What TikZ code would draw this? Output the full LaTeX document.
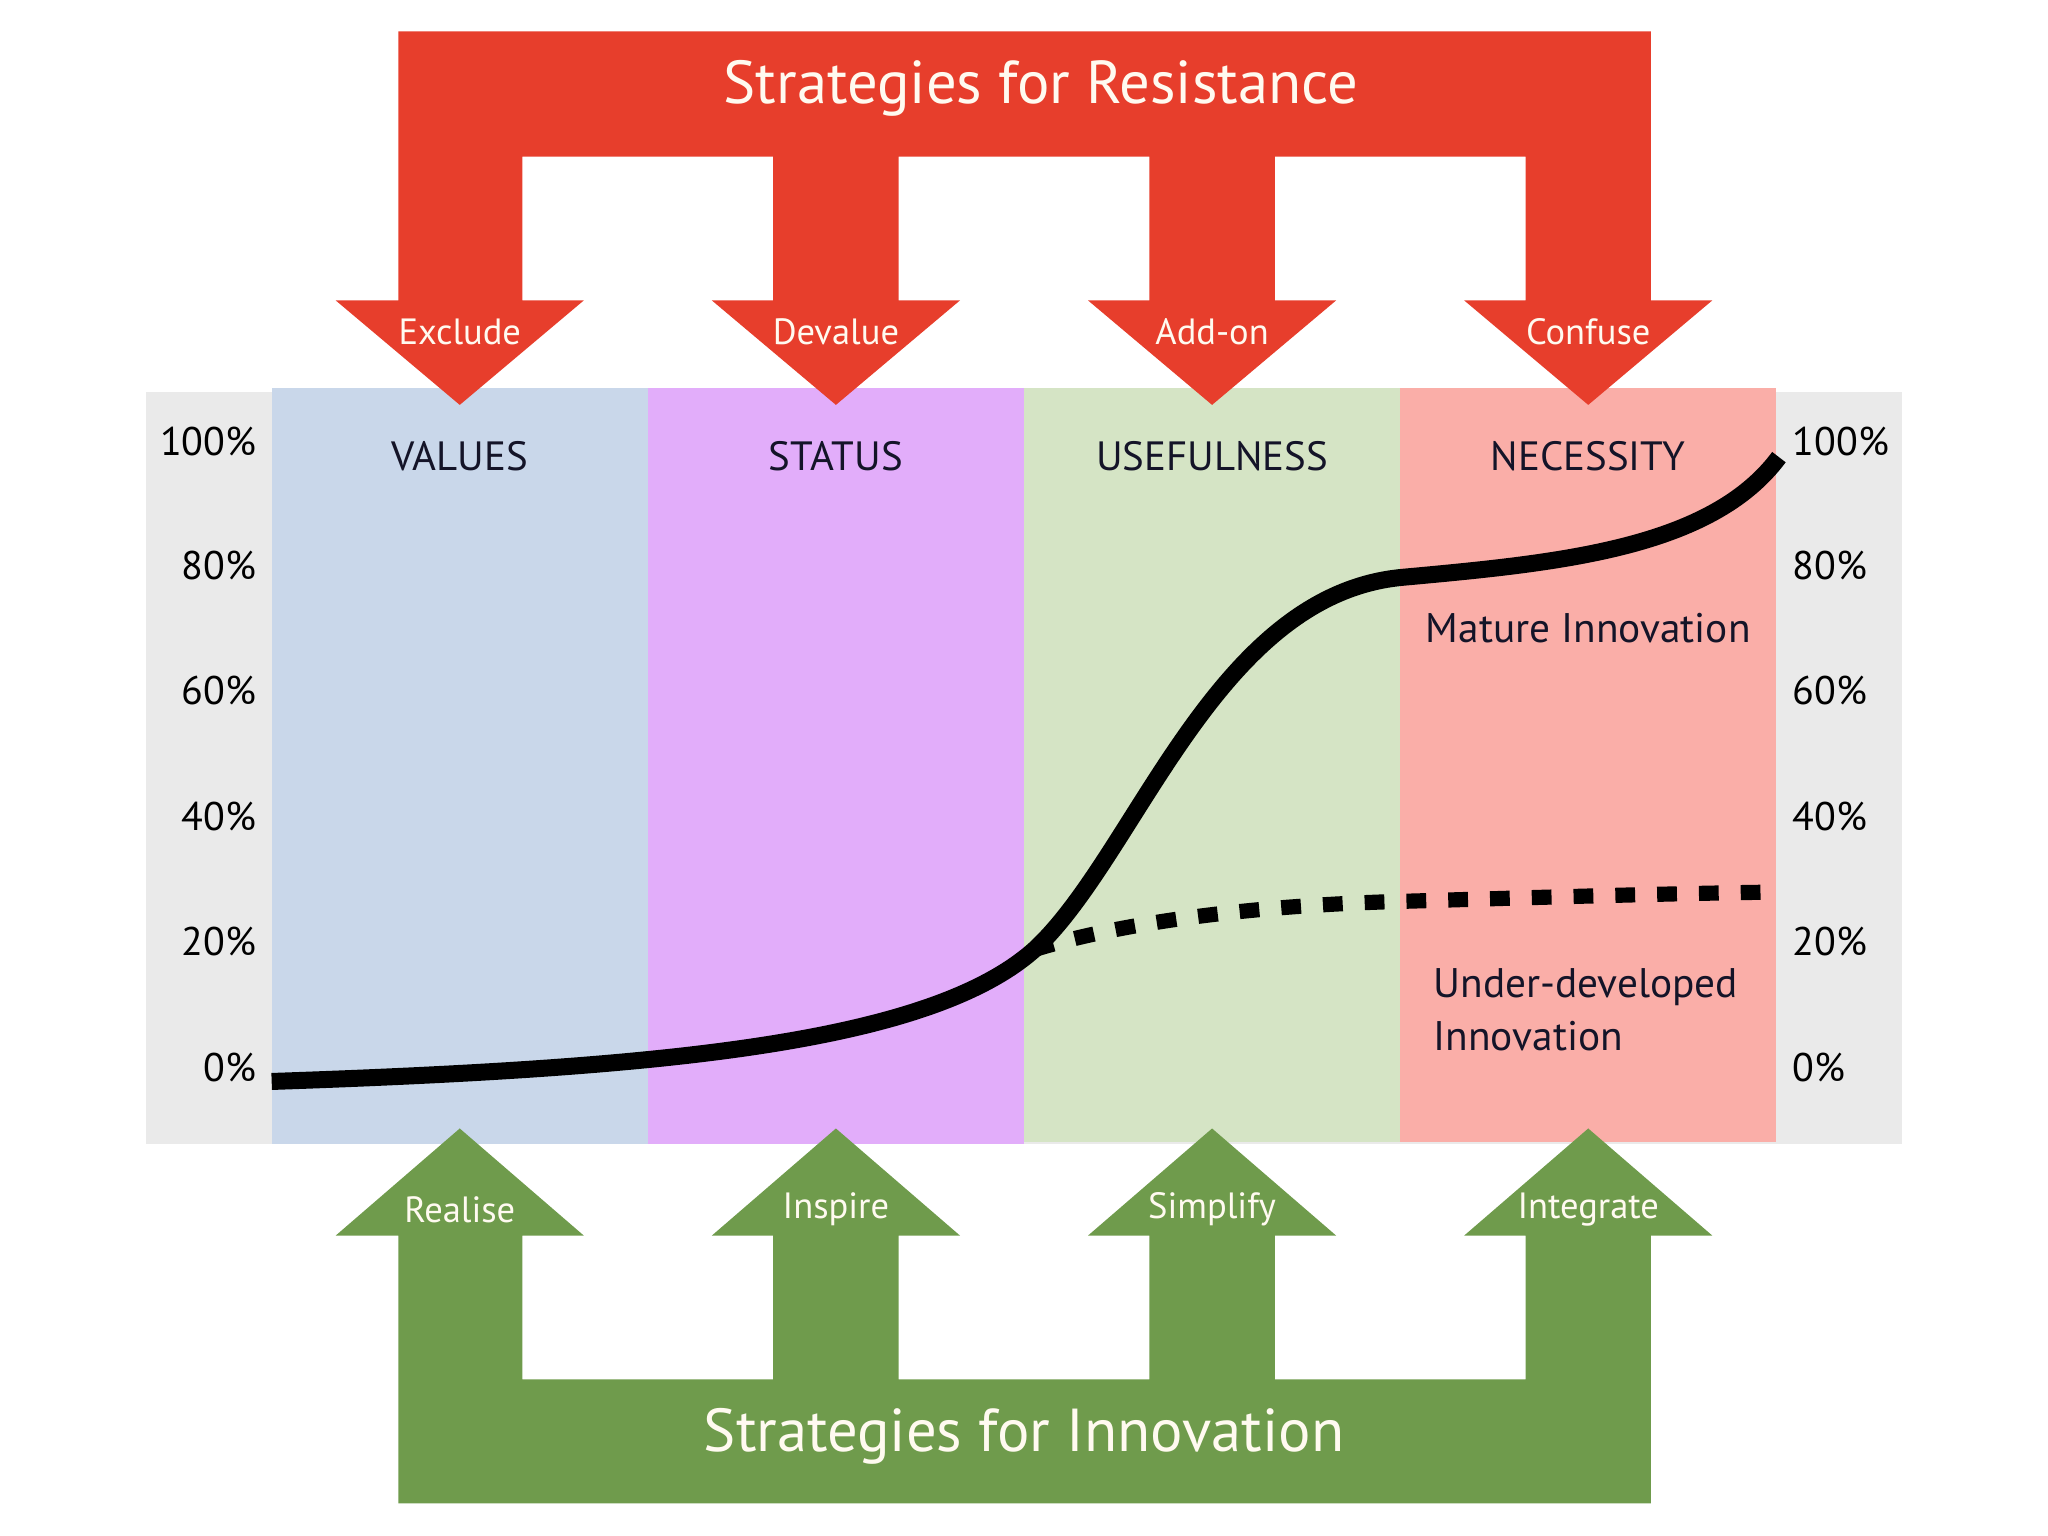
\documentclass[tikz,border=0pt]{standalone}
\usepackage{fontspec}
\setmainfont{PT Sans}
\definecolor{resred}{RGB}{231,62,44}
\definecolor{innogreen}{RGB}{111,155,76}
\definecolor{colvalues}{RGB}{201,215,234}
\definecolor{colstatus}{RGB}{226,173,250}
\definecolor{coluseful}{RGB}{213,228,197}
\definecolor{colneed}{RGB}{250,174,168}
\definecolor{panelgray}{RGB}{234,234,234}
\definecolor{lighttext}{RGB}{255,250,240}
\definecolor{darktext}{RGB}{20,20,40}
\begin{document}
\begin{tikzpicture}[x=0.01cm,y=-0.01cm,
  arrowlbl/.style={text=lighttext, font=\fontsize{7.95}{10}\selectfont, inner sep=0},
  bigtitle/.style={text=lighttext, font=\fontsize{13.2}{16}\selectfont, inner sep=0},
  header/.style={text=darktext, font=\fontsize{8.9}{11}\selectfont, inner sep=0},
  axislbl/.style={text=black, font=\fontsize{8.7}{11}\selectfont, inner sep=0},
  curvelbl/.style={text=darktext, font=\fontsize{9.0}{11.5}\selectfont, inner sep=0, align=left},
  solidcurve/.style={line width=3.7pt, black},
  dashcurve/.style={line width=3.3pt, black, dash pattern=on 4.3pt off 4.8pt}]
\useasboundingbox (0,0) rectangle (1568,1176);
% panel
\fill[panelgray] (112,300) rectangle (1456,876);
\fill[colvalues] (208,297) rectangle (496,876);
\fill[colstatus] (496,297) rectangle (784,876);
\fill[coluseful] (784,297) rectangle (1072,874);
\fill[colneed] (1072,297) rectangle (1360,874);
% red arrows
\fill[resred] (305,24) -- (1264,24) -- (1264,230) -- (1311,230) -- (1216,310) -- (1121,230) -- (1168,230) -- (1168,120) -- (976,120) -- (976,230) -- (1023,230) -- (928,310) -- (833,230) -- (880,230) -- (880,120) -- (688,120) -- (688,230) -- (735,230) -- (640,310) -- (545,230) -- (592,230) -- (592,120) -- (400,120) -- (400,230) -- (447,230) -- (352,310) -- (257,230) -- (305,230) -- cycle;
% green arrows
\fill[innogreen] (305,1151) -- (1264,1151) -- (1264,946) -- (1311,946) -- (1216,864) -- (1121,946) -- (1168,946) -- (1168,1056) -- (976,1056) -- (976,946) -- (1023,946) -- (928,864) -- (833,946) -- (880,946) -- (880,1056) -- (688,1056) -- (688,946) -- (735,946) -- (640,864) -- (545,946) -- (592,946) -- (592,1056) -- (400,1056) -- (400,946) -- (447,946) -- (352,864) -- (257,946) -- (305,946) -- cycle;
% titles
\node[bigtitle] (restitle) at (797,68) {Strategies for Resistance};
\node[bigtitle] (innotitle) at (784,1100) {Strategies for Innovation};
% arrow labels
\node[arrowlbl] (exclude) at (352,254) {Exclude};
\node[arrowlbl] (devalue) at (640,254) {Devalue};
\node[arrowlbl] (addon) at (928,254) {Add-on};
\node[arrowlbl] (confuse) at (1216,254) {Confuse};
\node[arrowlbl] (realise) at (352,926) {Realise};
\node[arrowlbl] (inspire) at (640,926) {Inspire};
\node[arrowlbl] (simplify) at (928,926) {Simplify};
\node[arrowlbl] (integrate) at (1216,926) {Integrate};
% headers
\node[header] (values) at (352,349) {VALUES};
\node[header] (status) at (640,349) {STATUS};
\node[header] (usefulness) at (928,349) {USEFULNESS};
\node[header] (necessity) at (1216,349) {NECESSITY};
% axis labels
\foreach \v/\yy in {100/338,80/433,60/529,40/625,20/721,0/817}{
  \node[axislbl, anchor=east] (L\v) at (197,\yy) {\v\%};
  \node[axislbl, anchor=west] (R\v) at (1372,\yy) {\v\%};
}
% curves
\coordinate (cstart) at (208,828);
\coordinate (cbranch) at (792,727);
\coordinate (cknee) at (1074,442);
\coordinate (cend) at (1362,350);
\coordinate (dend) at (1360,683);
\draw[solidcurve] (cstart) .. controls (500,818) and (710,800) .. (cbranch)
  .. controls (870,655) and (930,455) .. (cknee)
  .. controls (1194,431) and (1310,420) .. (cend);
\draw[dashcurve] (cbranch) .. controls (860,706) and (960,693) .. (1077,690)
  .. controls (1180,687) and (1280,684) .. (dend);
% curve labels
\node[curvelbl] (mature) at (1216,481) {Mature Innovation};
\node[curvelbl, anchor=north west] (under) at (1097,741) {Under-developed\\Innovation};
\end{tikzpicture}
\end{document}
